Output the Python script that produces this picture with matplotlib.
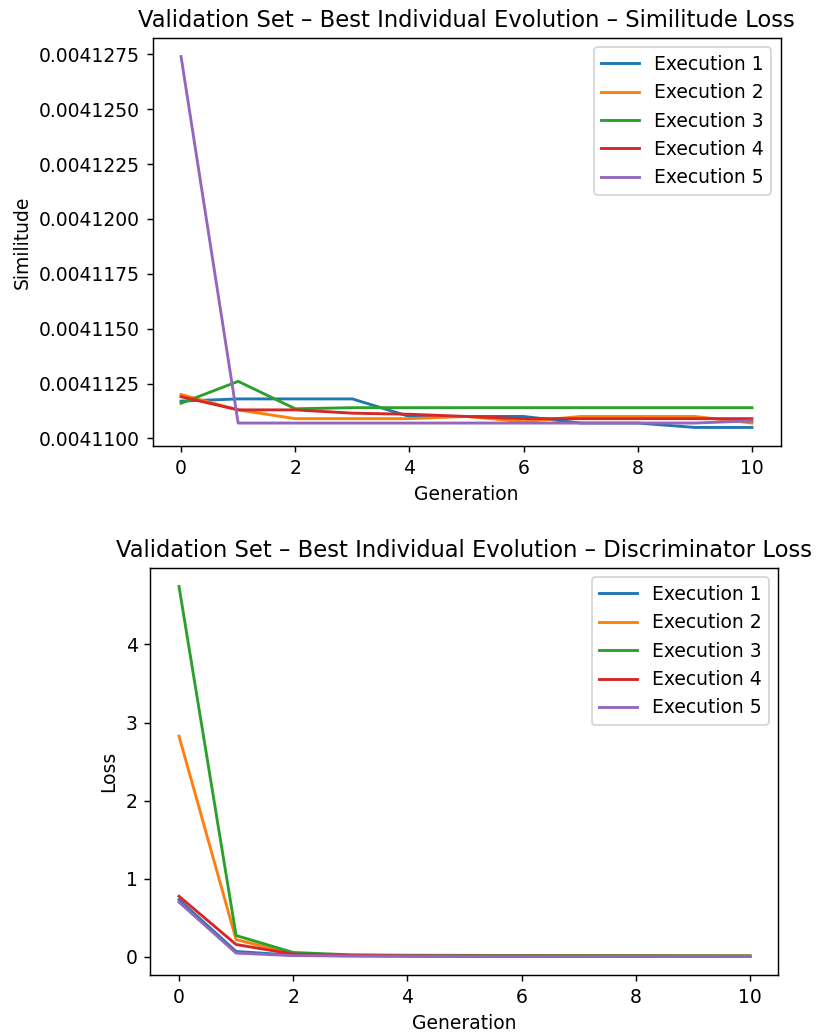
import matplotlib
matplotlib.use("Agg")
import matplotlib.pyplot as plt

generations = list(range(11))
labels = ["Execution 1", "Execution 2", "Execution 3", "Execution 4", "Execution 5"]

sim_e1 = [0.0041117, 0.0041118, 0.0041118, 0.0041118, 0.0041110, 0.0041110, 0.0041110, 0.0041107, 0.0041107, 0.0041105, 0.0041105]
sim_e2 = [0.0041120, 0.0041113, 0.0041109, 0.0041109, 0.0041109, 0.0041110, 0.00411076, 0.0041110, 0.0041110, 0.0041110, 0.0041107]
sim_e3 = [0.0041116, 0.0041126, 0.00411135, 0.0041114, 0.0041114, 0.0041114, 0.0041114, 0.0041114, 0.0041114, 0.0041114, 0.0041114]
sim_e4 = [0.0041119, 0.0041113, 0.0041113, 0.00411115, 0.0041111, 0.0041110, 0.0041109, 0.0041109, 0.0041109, 0.0041109, 0.0041109]
sim_e5 = [0.0041274, 0.0041107, 0.0041107, 0.0041107, 0.0041107, 0.0041107, 0.0041107, 0.0041107, 0.0041107, 0.0041107, 0.0041108]

loss_e1 = [0.73, 0.068, 0.020, 0.012, 0.009, 0.008, 0.007, 0.006, 0.006, 0.005, 0.005]
loss_e2 = [2.826, 0.22, 0.040, 0.020, 0.015, 0.012, 0.011, 0.010, 0.009, 0.009, 0.008]
loss_e3 = [4.742, 0.272, 0.055, 0.025, 0.020, 0.018, 0.016, 0.015, 0.014, 0.013, 0.012]
loss_e4 = [0.775, 0.157, 0.035, 0.018, 0.012, 0.010, 0.009, 0.008, 0.008, 0.007, 0.007]
loss_e5 = [0.70, 0.047, 0.015, 0.010, 0.008, 0.007, 0.006, 0.005, 0.005, 0.005, 0.004]

sim_series = [sim_e1, sim_e2, sim_e3, sim_e4, sim_e5]
loss_series = [loss_e1, loss_e2, loss_e3, loss_e4, loss_e5]

plt.rcParams['font.size'] = 10.4
plt.rcParams['axes.titlesize'] = 12.5

fig = plt.figure(figsize=(816 / 130, 1035 / 130), dpi=130)
ax1 = fig.add_axes([0.1869, 0.5691, 0.7696, 0.3942])
ax2 = fig.add_axes([0.1844, 0.0580, 0.7696, 0.3932])

for s, lab in zip(sim_series, labels):
    ax1.plot(generations, s, label=lab, linewidth=1.6)
ax1.ticklabel_format(axis="y", useOffset=False, style="plain")
ax1.set_title("Validation Set – Best Individual Evolution – Similitude Loss")
ax1.set_xlabel("Generation")
ax1.set_ylabel("Similitude")
ax1.legend(loc="upper right")

for s, lab in zip(loss_series, labels):
    ax2.plot(generations, s, label=lab, linewidth=1.6)
ax2.set_title("Validation Set – Best Individual Evolution – Discriminator Loss")
ax2.set_xlabel("Generation")
ax2.set_ylabel("Loss")
ax2.legend(loc="upper right")

fig.savefig("out.png", dpi=130)
